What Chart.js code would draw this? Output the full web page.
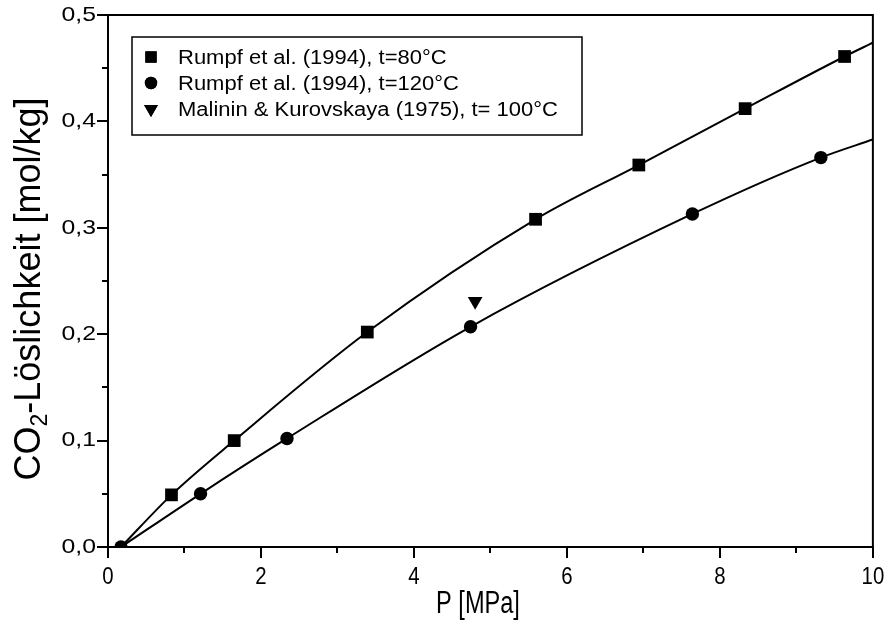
<!DOCTYPE html>
<html>
<head>
<meta charset="utf-8">
<script src="https://cdn.jsdelivr.net/npm/chart.js@4/dist/chart.umd.min.js"></script>
<style>
  html, body { margin: 0; padding: 0; background: #fff; }
  #wrap { width: 888px; height: 622px; }
</style>
</head>
<body>
<div id="wrap"><canvas id="c" width="888" height="622"></canvas></div>
<script>
// CO2 solubility in water vs. pressure
const FONT = "'Liberation Sans', Arial, Helvetica, sans-serif";

// common starting point of both fitted curves
const originP = 0.17;
const originS = 0.0;

// Rumpf et al. (1994), t = 80 °C
const p80 = [0.83, 1.65, 3.39, 5.59, 6.94, 8.33, 9.63];
const s80 = [0.049, 0.100, 0.202, 0.308, 0.359, 0.412, 0.461];
// Rumpf et al. (1994), t = 120 °C
const p120 = [0.17, 1.21, 2.34, 4.74, 7.64, 9.32];
const s120 = [0.000, 0.050, 0.102, 0.207, 0.313, 0.366];
// Malinin & Kurovskaya (1975), t = 100 °C
const p100 = [4.80];
const s100 = [0.231];

// fitted curves run on to the right edge of the axis
const fitEndP = 10;
const fitEnd80 = 0.474;
const fitEnd120 = 0.383;

const xTicksMinor = [1, 3, 5, 7, 9];
const yTicksMinor = [0.05, 0.15, 0.25, 0.35, 0.45];

const labels = [
  'Rumpf et al. (1994), t=80°C',
  'Rumpf et al. (1994), t=120°C',
  'Malinin & Kurovskaya (1975), t= 100°C'
];

const pts = (xs, ys) => xs.map((x, i) => ({ x, y: ys[i] }));

const markerDatasets = [
  { label: labels[0], data: pts(p80, s80), pointStyle: 'rect', pointRadius: 9, rotation: 0, order: 1 },
  { label: labels[1], data: pts(p120, s120), pointStyle: 'circle', pointRadius: 6.7, rotation: 0, order: 0 },
  { label: labels[2], data: pts(p100, s100), pointStyle: 'triangle', pointRadius: 8.5, rotation: 180, order: 2 }
].map(d => Object.assign(d, {
  showLine: false,
  backgroundColor: '#000',
  borderColor: '#000',
  borderWidth: 0,
  pointHoverRadius: d.pointRadius
}));

const curveDatasets = [
  { data: pts([originP].concat(p80, [fitEndP]), [originS].concat(s80, [fitEnd80])) },
  { data: pts(p120.concat([fitEndP]), s120.concat([fitEnd120])) }
].map(d => Object.assign(d, {
  label: '',
  order: 3,
  showLine: true,
  pointRadius: 0,
  borderColor: '#000',
  borderWidth: 2,
  cubicInterpolationMode: 'monotone',
  fill: false
}));

// draw text squeezed / widened horizontally by factor sx
function scaledText(ctx, text, x, y, font, sx, align) {
  ctx.save();
  ctx.font = font;
  ctx.textAlign = align;
  ctx.translate(x, y);
  ctx.scale(sx, 1);
  ctx.fillText(text, 0, 0);
  ctx.restore();
}

// frame around the plot area, minor ticks and tick labels
const framePlugin = {
  id: 'frame',
  afterDraw(chart) {
    const { ctx, chartArea: a, scales } = chart;
    ctx.save();
    ctx.strokeStyle = '#000';
    ctx.lineWidth = 2;
    ctx.strokeRect(a.left, a.top, a.right - a.left, a.bottom - a.top);
    ctx.beginPath();
    xTicksMinor.forEach(v => {
      const x = Math.round(scales.x.getPixelForValue(v));
      ctx.moveTo(x, a.bottom);
      ctx.lineTo(x, a.bottom + 6);
    });
    yTicksMinor.forEach(v => {
      const y = Math.round(scales.y.getPixelForValue(v));
      ctx.moveTo(a.left, y);
      ctx.lineTo(a.left - 6, y);
    });
    ctx.stroke();
    ctx.fillStyle = '#000';
    ctx.textBaseline = 'alphabetic';
    scales.x.ticks.forEach(t => {
      const x = scales.x.getPixelForValue(t.value);
      scaledText(ctx, String(t.value), x, 584, '24px ' + FONT, 0.85, 'center');
    });
    ctx.textBaseline = 'middle';
    scales.y.ticks.forEach(t => {
      const y = scales.y.getPixelForValue(t.value);
      scaledText(ctx, t.value.toFixed(1).replace('.', ','), 96, y, '21px ' + FONT, 1.18, 'right');
    });
    ctx.restore();
  }
};

// axis titles (with subscript in the y title)
const titlePlugin = {
  id: 'axisTitles',
  afterDraw(chart) {
    const { ctx } = chart;
    ctx.save();
    ctx.fillStyle = '#000';
    ctx.textBaseline = 'alphabetic';
    // x title
    scaledText(ctx, 'P [MPa]', 478, 613, '31px ' + FONT, 0.76, 'center');
    // y title, rotated
    ctx.translate(40, 289);
    ctx.rotate(-Math.PI / 2);
    const big = '36px ' + FONT, small = '23px ' + FONT;
    const parts = [
      { t: 'CO', f: big, dy: 0 },
      { t: '2', f: small, dy: 7 },
      { t: '-Löslichkeit [mol/kg]', f: big, dy: 0 }
    ];
    let total = 0;
    parts.forEach(p => { ctx.font = p.f; p.w = ctx.measureText(p.t).width; total += p.w; });
    let x = -total / 2;
    ctx.textAlign = 'left';
    parts.forEach(p => { ctx.font = p.f; ctx.fillText(p.t, x, p.dy); x += p.w; });
    ctx.restore();
  }
};

// boxed legend inside the plot area
const legendPlugin = {
  id: 'boxLegend',
  afterDraw(chart) {
    const { ctx } = chart;
    const box = { x: 132, y: 37, w: 450, h: 98 };
    ctx.save();
    ctx.fillStyle = '#fff';
    ctx.fillRect(box.x, box.y, box.w, box.h);
    ctx.strokeStyle = '#000';
    ctx.lineWidth = 1.5;
    ctx.strokeRect(box.x, box.y, box.w, box.h);
    ctx.textBaseline = 'middle';
    ctx.fillStyle = '#000';
    markerDatasets.forEach((d, i) => {
      const y = 57 + i * 26;
      Chart.helpers.drawPoint(ctx, {
        pointStyle: d.pointStyle,
        rotation: d.rotation,
        radius: d.pointStyle === 'circle' ? 6.2 : 8,
        borderWidth: 0
      }, 151, y);
      ctx.fill();
      scaledText(ctx, d.label, 178, y + 1, '20px ' + FONT, 1.1, 'left');
    });
    ctx.restore();
  }
};

new Chart(document.getElementById('c'), {
  type: 'scatter',
  data: { datasets: markerDatasets.concat(curveDatasets) },
  options: {
    responsive: false,
    animation: false,
    devicePixelRatio: 1,
    layout: { padding: { top: 15, right: 15, left: 0, bottom: 0 } },
    plugins: {
      legend: { display: false },
      tooltip: { enabled: false }
    },
    scales: {
      x: {
        type: 'linear',
        min: 0, max: 10,
        afterFit(s) { s.height = 75; },
        ticks: {
          stepSize: 2,
          color: 'rgba(0,0,0,0)',
          font: { family: FONT, size: 20 },
          padding: 4,
          maxRotation: 0,
          callback: v => String(v)
        },
        grid: { drawOnChartArea: false, drawTicks: true, tickLength: 11, color: '#000', lineWidth: 2 },
        border: { display: true, color: '#000', width: 2 }
      },
      y: {
        type: 'linear',
        min: 0, max: 0.5,
        afterFit(s) { s.width = 108; },
        ticks: {
          stepSize: 0.1,
          color: 'rgba(0,0,0,0)',
          font: { family: FONT, size: 20 },
          padding: 2,
          callback: v => v.toFixed(1).replace('.', ',')
        },
        grid: { drawOnChartArea: false, drawTicks: true, tickLength: 11, color: '#000', lineWidth: 2 },
        border: { display: true, color: '#000', width: 2 }
      }
    }
  },
  plugins: [framePlugin, titlePlugin, legendPlugin]
});
</script>
</body>
</html>
